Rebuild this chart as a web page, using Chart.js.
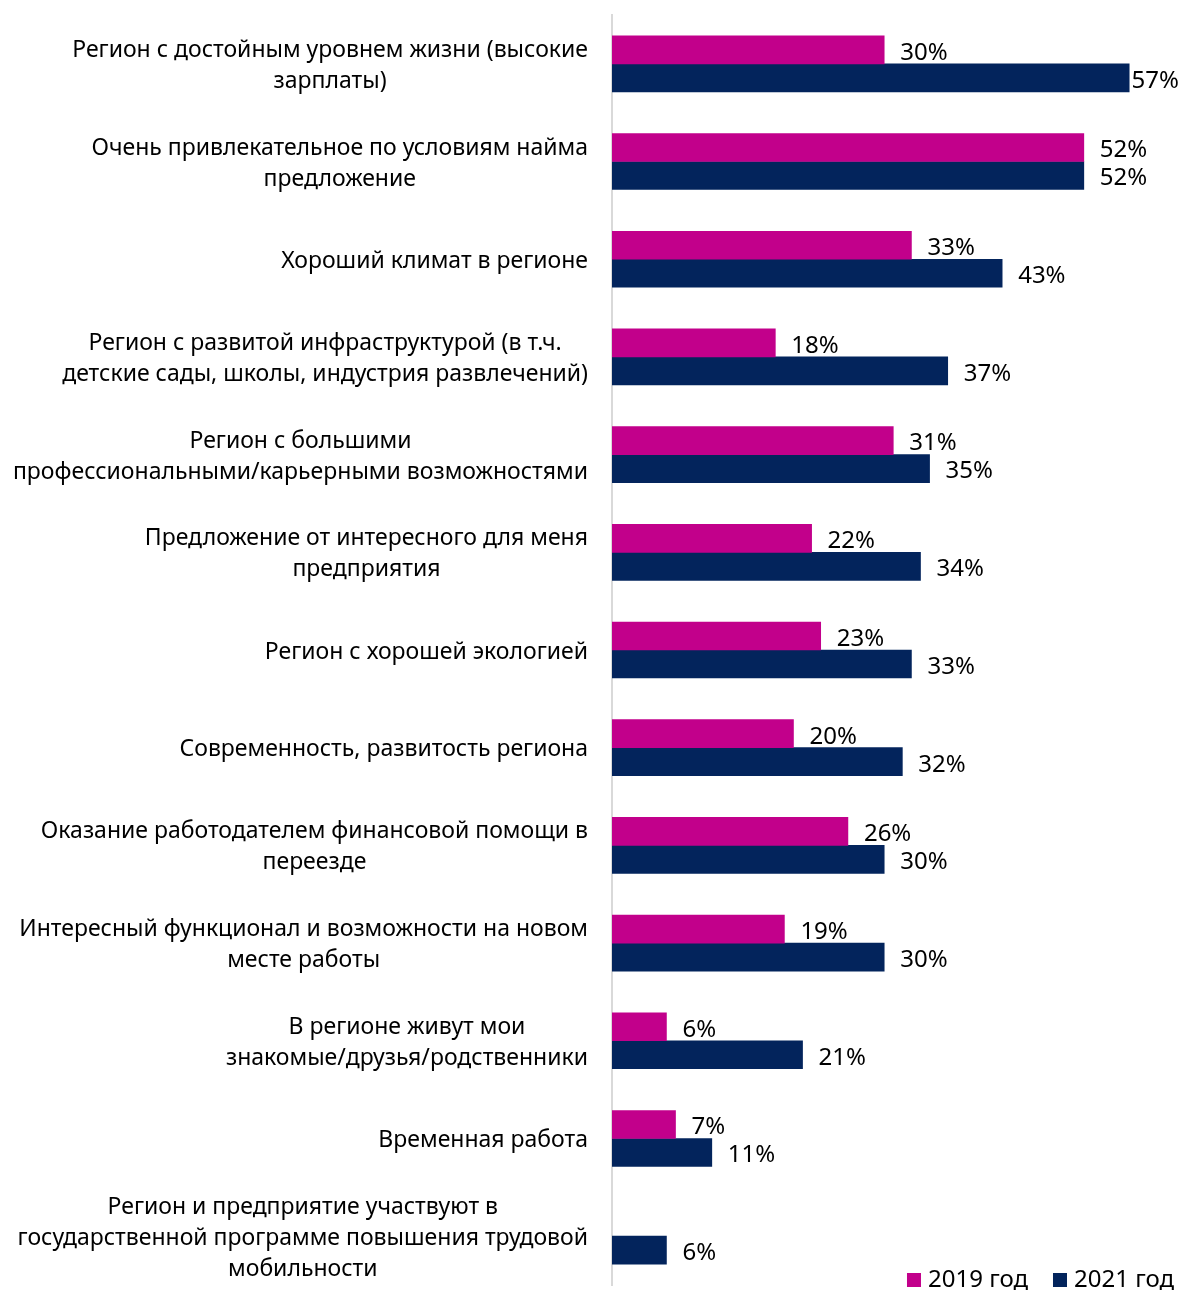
<!DOCTYPE html>
<html>
<head>
<meta charset="utf-8">
<script src="https://cdn.jsdelivr.net/npm/chart.js@4.4.0/dist/chart.umd.min.js"></script>
<style>
  body { margin: 0; background: #fff; }
  #wrap { width: 1180px; height: 1290px; }
</style>
</head>
<body>
<div id="wrap"><canvas id="chartMove" width="1180" height="1290"></canvas></div>
<script>
// categories (each entry is lines of the label)
const categories = [
  ['Регион с достойным уровнем жизни (высокие', 'зарплаты)'],
  ['Очень привлекательное по условиям найма', 'предложение'],
  ['Хороший климат в регионе'],
  ['Регион с развитой инфраструктурой (в т.ч.', 'детские сады, школы, индустрия развлечений)'],
  ['Регион с большими', 'профессиональными/карьерными возможностями'],
  ['Предложение от интересного для меня', 'предприятия'],
  ['Регион с хорошей экологией'],
  ['Современность, развитость региона'],
  ['Оказание работодателем финансовой помощи в', 'переезде'],
  ['Интересный функционал и возможности на новом', 'месте работы'],
  ['В регионе живут мои', 'знакомые/друзья/родственники'],
  ['Временная работа'],
  ['Регион и предприятие участвуют в', 'государственной программе повышения трудовой', 'мобильности']
];
const values2019 = [30, 52, 33, 18, 31, 22, 23, 20, 26, 19, 6, 7, null];
const values2021 = [57, 52, 43, 37, 35, 34, 33, 32, 30, 30, 21, 11, 6];
const seriesNames = ['2019 год', '2021 год'];

const FONT = '"Noto Sans", sans-serif';
const magenta = '#c2008b';
const navy = '#03245c';

// left labels, each line centred, block right-aligned to the axis
const labelPlugin = {
  id: 'leftLabels',
  afterDraw(chart) {
    const ctx = chart.ctx;
    const y = chart.scales.y;
    ctx.save();
    ctx.font = '23px ' + FONT;
    ctx.fillStyle = '#000';
    ctx.textBaseline = 'middle';
    ctx.textAlign = 'center';
    const right = chart.chartArea.left - 24;
    const lh = 31;
    categories.forEach((lines, i) => {
      const cy = y.getPixelForValue(i) + 2;
      const w = Math.max(...lines.map(l => ctx.measureText(l).width));
      const cx = right - w / 2;
      lines.forEach((l, j) => {
        ctx.fillText(l, cx, cy + (j - (lines.length - 1) / 2) * lh);
      });
    });
    ctx.restore();
  }
};

// value labels after bars
const valuePlugin = {
  id: 'values',
  afterDatasetsDraw(chart) {
    const ctx = chart.ctx;
    ctx.save();
    ctx.font = '24px ' + FONT;
    ctx.fillStyle = '#000';
    ctx.textBaseline = 'middle';
    ctx.textAlign = 'left';
    chart.data.datasets.forEach((ds, di) => {
      chart.getDatasetMeta(di).data.forEach((bar, i) => {
        const v = ds.data[i];
        if (v == null) return;
        const t = v + '%';
        const tw = ctx.measureText(t).width;
        let x = bar.x + 16;
        if (x + tw > chart.width - 1) x = chart.width - 1 - tw;
        ctx.fillText(t, x, bar.y + 3);
      });
    });
    ctx.restore();
  }
};

// legend bottom right
const legendPlugin = {
  id: 'legendBR',
  afterDraw(chart) {
    const ctx = chart.ctx;
    ctx.save();
    ctx.font = '24px ' + FONT;
    ctx.textBaseline = 'middle';
    ctx.textAlign = 'left';
    const cy = 1280;
    let x = chart.width - 6;
    const items = chart.data.datasets.map(d => ({ t: d.label, c: d.backgroundColor })).reverse();
    items.forEach(it => {
      const tw = ctx.measureText(it.t).width;
      x -= tw;
      ctx.fillStyle = '#000';
      ctx.fillText(it.t, x, cy);
      x -= 21;
      ctx.fillStyle = it.c;
      ctx.fillRect(x, cy - 7, 14, 14);
      x -= 25;
    });
    ctx.restore();
  }
};

new Chart(document.getElementById('chartMove'), {
  type: 'bar',
  data: {
    labels: categories,
    datasets: [
      { label: seriesNames[0], data: values2019, backgroundColor: magenta, barThickness: 28 },
      { label: seriesNames[1], data: values2021, backgroundColor: navy, barThickness: 28 }
    ]
  },
  options: {
    indexAxis: 'y',
    responsive: false,
    animation: false,
    layout: { padding: { top: 15, bottom: 5, right: 0 } },
    plugins: { legend: { display: false }, tooltip: { enabled: false } },
    scales: {
      x: { display: false, min: 0, max: 62.6 },
      y: {
        ticks: { display: false },
        grid: { display: false },
        border: { display: true, color: '#d9d9d9', width: 2 },
        afterFit: s => { s.width = 612; }
      }
    }
  },
  plugins: [labelPlugin, valuePlugin, legendPlugin]
});
</script>
</body>
</html>
